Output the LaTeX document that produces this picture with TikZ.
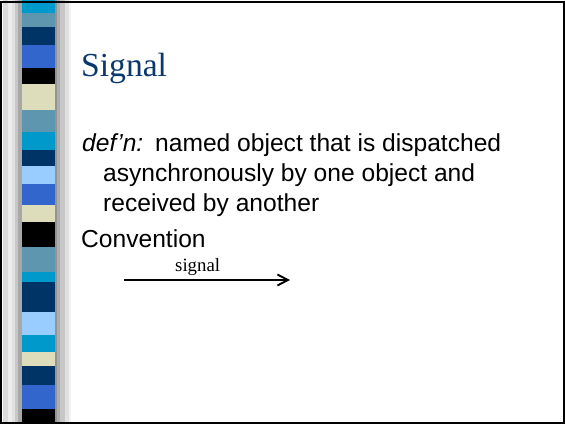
\documentclass[tikz,border=0pt]{standalone}
\usepackage{fontspec}
\setmainfont{Liberation Serif}
\newfontfamily\bodyfont{Liberation Sans}
\usetikzlibrary{arrows.meta}
\definecolor{cyanblk}{RGB}{0,153,204}
\definecolor{steelblk}{RGB}{95,150,175}
\definecolor{navyblk}{RGB}{0,51,102}
\definecolor{royalblk}{RGB}{51,102,204}
\definecolor{creamblk}{RGB}{221,221,187}
\definecolor{skyblk}{RGB}{153,204,255}
\definecolor{titleblue}{RGB}{10,55,110}
\tikzset{
  band/.style={fill=#1, draw=none},
  bodytext/.style={inner sep=0pt, anchor=base west, font=\bodyfont\fontsize{24.6}{29}\selectfont},
  titletext/.style={inner sep=0pt, anchor=base west, text=titleblue, font=\fontsize{33.6}{38}\selectfont},
  labeltext/.style={inner sep=0pt, anchor=base west, font=\fontsize{18.8}{22}\selectfont},
  msgarrow/.style={line width=1.9pt, -{Straight Barb[length=10.5pt,width=11pt,line width=1.9pt]}},
}
\begin{document}
\begin{tikzpicture}[x=1pt,y=-1pt]
\useasboundingbox (0,0) rectangle (565,424);
\fill[white] (0,0) rectangle (565,424);

% grey bevelled rails either side of the colour column
\foreach \xa/\xb/\g in {3/7.5/86, 7.5/11.7/93, 11.7/15/88, 15/18.3/78, 18.3/22/66,
                        55/57/58, 57/60/68, 60/65/78, 65/68.5/88, 68.5/71/95}
  \fill[black!\the\numexpr100-\g\relax] (\xa,0) rectangle (\xb,424);

% colour column of stacked blocks
\foreach \ya/\yb/\c in {0/13/cyanblk, 13/27/steelblk, 27/45/navyblk, 45/68/royalblk,
                        68/84/black, 84/110/creamblk, 110/132/steelblk, 132/150/cyanblk,
                        150/166/navyblk, 166/184/skyblk, 184/205/royalblk, 205/222/creamblk,
                        222/247/black, 247/272/steelblk, 272/282/cyanblk, 282/312/navyblk,
                        312/335/skyblk, 335/352/cyanblk, 352/366/creamblk, 366/385/navyblk,
                        385/409/royalblk, 409/424/black}
  \fill[band=\c] (22,\ya) rectangle (55,\yb);

% slide frame
\draw[line width=2pt] (1,1.5) rectangle (563.5,422.5);

% title
\node[titletext] (title) at (81,76) {Signal};

% definition
\node[bodytext] (defn) at (82,151) {\itshape def’n:};
\node[bodytext] (line1) at (155,151) {named object that is dispatched};
\node[bodytext] (line2) at (103,181) {asynchronously by one object and};
\node[bodytext] (line3) at (103,211) {received by another};
\node[bodytext] (conv) at (81,247) {Convention};

% notation for a signal
\coordinate (sigfrom) at (124,280);
\coordinate (sigto) at (290,280);
\draw[msgarrow] (sigfrom) -- (sigto);
\node[labeltext] (siglabel) at (175,271) {signal};
\end{tikzpicture}
\end{document}
